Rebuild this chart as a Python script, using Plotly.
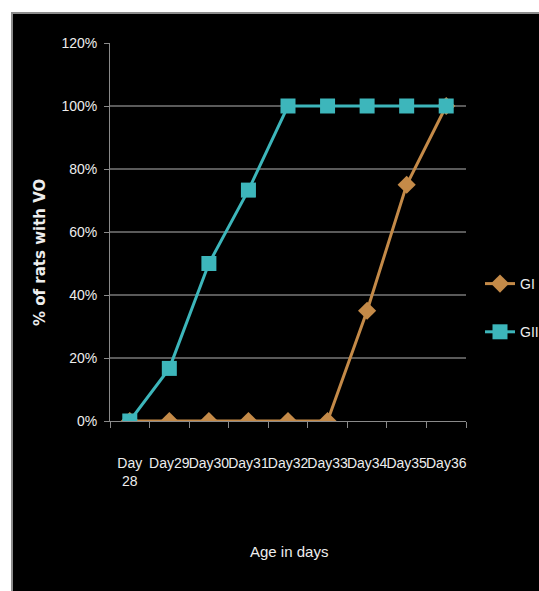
import plotly.graph_objects as go

# Age categories and share of rats showing vaginal opening (VO)
days = ["Day 28", "Day29", "Day30", "Day31", "Day32", "Day33", "Day34", "Day35", "Day36"]
day_labels = ["Day<br>28", "Day29", "Day30", "Day31", "Day32", "Day33", "Day34", "Day35", "Day36"]
gi_values = [0.0, 0.0, 0.0, 0.0, 0.0, 0.0, 0.35, 0.75, 1.0]
gii_values = [0.0, 0.167, 0.50, 0.733, 1.0, 1.0, 1.0, 1.0, 1.0]
y_ticks = [0.0, 0.2, 0.4, 0.6, 0.8, 1.0, 1.2]

GI_COLOR = "#C48A48"
GII_COLOR = "#3DB6BB"
GRID = "#5A5A5A"
AXIS = "#8A8A8A"
TEXT = "#EDEDED"
FONT = "Liberation Sans, Arial, sans-serif"

W, H = 539, 591
ML, MR, MT, MB = 110, 73, 43, 170
PW, PH = W - ML - MR, H - MT - MB


def px_x(p):
    return (p - ML) / PW


def px_y(p):
    return (H - MB - p) / PH


fig = go.Figure()
fig.add_trace(go.Scatter(
    x=days, y=gi_values, name="GI", mode="lines+markers",
    legendgroup="gi",
    line=dict(color=GI_COLOR, width=3),
    marker=dict(symbol="diamond", size=14, color=GI_COLOR),
))
fig.add_trace(go.Scatter(
    x=days, y=gii_values, name="GII", mode="lines+markers",
    legendgroup="gii",
    line=dict(color=GII_COLOR, width=3),
    marker=dict(symbol="square", size=15, color=GII_COLOR),
))

fig.update_layout(
    width=W, height=H,
    margin=dict(l=ML, r=MR, t=MT, b=MB, autoexpand=False),
    paper_bgcolor="white",
    plot_bgcolor="black",
    showlegend=True,
    legend=dict(
        x=px_x(480), y=px_y(308), xanchor="left", yanchor="middle",
        bgcolor="rgba(0,0,0,0)",
        font=dict(family=FONT, size=14, color=TEXT),
        tracegroupgap=27, itemwidth=30,
    ),
    shapes=[dict(
        type="rect", xref="paper", yref="paper", layer="below",
        x0=px_x(12), x1=px_x(560), y0=px_y(620), y1=px_y(13),
        fillcolor="black", line=dict(color="#8C8C8C", width=2),
    )],
    annotations=[
        dict(text="% of rats with VO", xref="paper", yref="paper",
             x=px_x(40), y=px_y(253), xanchor="center", yanchor="middle",
             showarrow=False, textangle=-90,
             font=dict(family="DejaVu Sans", size=15, color=TEXT, weight="bold")),
        dict(text="Age in days", xref="paper", yref="paper",
             x=px_x(289), y=px_y(551), xanchor="center", yanchor="middle",
             showarrow=False,
             font=dict(family=FONT, size=15, color=TEXT)),
    ],
)

fig.update_xaxes(
    type="category", categoryorder="array", categoryarray=days,
    tickvals=days, ticktext=day_labels, tickangle=0,
    range=[-0.5, len(days) - 0.5],
    tickson="boundaries", ticks="outside", ticklen=6, tickcolor=AXIS, tickwidth=1,
    showline=True, linecolor=AXIS, linewidth=1,
    showgrid=False, zeroline=False,
    tickfont=dict(family=FONT, size=14, color=TEXT),
    ticklabelstandoff=29,
)
fig.update_yaxes(
    range=[0, 1.2], tickvals=y_ticks, tickformat=".0%",
    ticks="outside", ticklen=5, tickcolor=AXIS,
    showline=True, linecolor=AXIS, linewidth=1,
    showgrid=True, gridcolor=GRID, gridwidth=2,
    zeroline=False,
    tickfont=dict(family=FONT, size=14, color=TEXT),
    ticklabelstandoff=4,
)

fig.write_html("out.html")
